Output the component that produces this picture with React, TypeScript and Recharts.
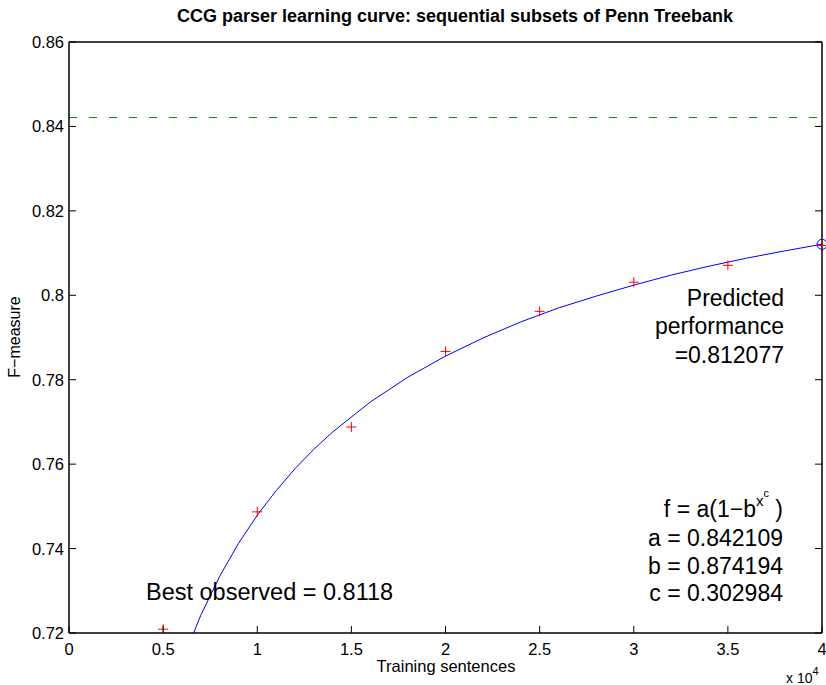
import {
  ComposedChart,
  Line,
  ReferenceLine,
  Scatter,
  XAxis,
  YAxis,
} from "recharts";

// observed F-measure for each sequential subset (x in units of 10^4 sentences)
const trainSizes = [0.5, 1, 1.5, 2, 2.5, 3, 3.5, 4];
const fScores = [0.7209, 0.7487, 0.7688, 0.7867, 0.7962, 0.8031, 0.8071, 0.8118];

// fitted curve as drawn
const fitX = [0.6, 0.7, 0.8, 0.9, 1.0, 1.1, 1.2, 1.3, 1.4, 1.6, 1.8, 2.0, 2.2, 2.4, 2.6, 2.8, 3.0, 3.2, 3.4, 3.6, 3.8, 4.0];
const fitY = [
  0.7131, 0.7242, 0.7334, 0.7412, 0.7479, 0.7537, 0.7589, 0.7635, 0.7676, 0.7747, 0.7806,
  0.7856, 0.7899, 0.7937, 0.7970, 0.7998, 0.8024, 0.8048, 0.8069, 0.8088, 0.8105, 0.8121,
];

const predictedX = [4];
const predictedY = [0.812077];
const asymptote = 0.842109;

const xTicks = [0, 0.5, 1, 1.5, 2, 2.5, 3, 3.5, 4];
const yTicks = [0.72, 0.74, 0.76, 0.78, 0.8, 0.82, 0.84, 0.86];

const obsData = trainSizes.map((x, i) => ({ x, y: fScores[i] }));
const fitData = fitX.map((x, i) => ({ x, y: fitY[i] }));
const predData = predictedX.map((x, i) => ({ x, y: predictedY[i] }));

const FONT = "'Liberation Sans', Arial, Helvetica, sans-serif";
const TICK_LEN = 7;
const AXIS = { stroke: "#000", strokeWidth: 1.5 };

const BottomTick = ({ x, y, payload }: any) => (
  <g>
    <line x1={x} x2={x} y1={y} y2={y - TICK_LEN} stroke="#000" />
    <text x={x} y={y + 22} textAnchor="middle" fontFamily={FONT} fontSize={16.5} fill="#000">
      {String(payload.value)}
    </text>
  </g>
);

const TopTick = ({ x, y }: any) => <line x1={x} x2={x} y1={y} y2={y + TICK_LEN} stroke="#000" />;

const LeftTick = ({ x, y, payload }: any) => (
  <g>
    <line x1={x} x2={x + TICK_LEN} y1={y} y2={y} stroke="#000" />
    <text x={x - 5} y={y + 6} textAnchor="end" fontFamily={FONT} fontSize={16.5} fill="#000">
      {String(payload.value)}
    </text>
  </g>
);

const RightTick = ({ x, y }: any) => <line x1={x} x2={x - TICK_LEN} y1={y} y2={y} stroke="#000" />;

const PlusMark = ({ cx, cy }: any) => (
  <g>
    <line x1={cx - 5} x2={cx + 5} y1={cy} y2={cy} stroke="#ff0000" />
    <line x1={cx} x2={cx} y1={cy - 5} y2={cy + 5} stroke="#ff0000" />
  </g>
);

const CircleMark = ({ cx, cy }: any) => <circle cx={cx} cy={cy} r={5} fill="none" stroke="#0000ff" />;

export default function App() {
  return (
    <div style={{ position: "absolute", left: 0, top: 0, width: 826, height: 685, background: "#fff" }}>
      <ComposedChart width={826} height={685} margin={{ top: 41, right: 3, bottom: 0, left: 0 }}>
        <XAxis
          type="number"
          dataKey="x"
          domain={[0, 4]}
          ticks={xTicks}
          interval={0}
          height={52}
          tickSize={0}
          tickMargin={0}
          tick={<BottomTick />}
          axisLine={AXIS}
        />
        <XAxis
          xAxisId="top"
          orientation="top"
          type="number"
          dataKey="x"
          domain={[0, 4]}
          ticks={xTicks}
          interval={0}
          height={1}
          tickSize={0}
          tickMargin={0}
          tick={<TopTick />}
          axisLine={AXIS}
        />
        <YAxis
          type="number"
          domain={[0.72, 0.86]}
          ticks={yTicks}
          interval={0}
          width={69}
          allowDataOverflow
          tickSize={0}
          tickMargin={0}
          tick={<LeftTick />}
          axisLine={AXIS}
        />
        <YAxis
          yAxisId="right"
          orientation="right"
          type="number"
          domain={[0.72, 0.86]}
          ticks={yTicks}
          interval={0}
          width={1}
          allowDataOverflow
          tickSize={0}
          tickMargin={0}
          tick={<RightTick />}
          axisLine={AXIS}
        />
        <ReferenceLine y={asymptote} stroke="#009000" strokeDasharray="8 12" />
        <Line
          data={fitData}
          dataKey="y"
          type="linear"
          stroke="#0000ff"
          strokeWidth={1}
          dot={false}
          isAnimationActive={false}
        />
        <Scatter data={obsData} dataKey="y" shape={<PlusMark />} isAnimationActive={false} />
        <Scatter data={predData} dataKey="y" shape={<CircleMark />} isAnimationActive={false} />
      </ComposedChart>
      <svg
        width={826}
        height={685}
        style={{ position: "absolute", left: 0, top: 0, pointerEvents: "none" }}
        fontFamily={FONT}
      >
        <text x={455} y={22} textAnchor="middle" fontSize={18} fontWeight="bold">
          CCG parser learning curve: sequential subsets of Penn Treebank
        </text>
        <text x={446} y={672} textAnchor="middle" fontSize={16.5}>
          Training sentences
        </text>
        <text x={20} y={337} textAnchor="middle" fontSize={16} transform="rotate(-90 20 337)">
          F−measure
        </text>
        <text x={786} y={683} fontSize={14}>
          x 10<tspan dy={-8} fontSize={11}>4</tspan>
        </text>
        <g fontSize={23} textAnchor="end">
          <text x={784} y={306}>Predicted</text>
          <text x={784} y={334}>performance</text>
          <text x={784} y={363}>=0.812077</text>
          <text x={783} y={517}>
            f = a(1−b<tspan dy={-11} fontSize={15}>x</tspan>
            <tspan dy={-9} fontSize={11}>c</tspan>
            <tspan dy={20}> )</tspan>
          </text>
          <text x={783} y={546}>a = 0.842109</text>
          <text x={783} y={574}>b = 0.874194</text>
          <text x={783} y={601}>c = 0.302984</text>
        </g>
        <text x={146} y={600} fontSize={23.5}>
          Best observed = 0.8118
        </text>
      </svg>
    </div>
  );
}
